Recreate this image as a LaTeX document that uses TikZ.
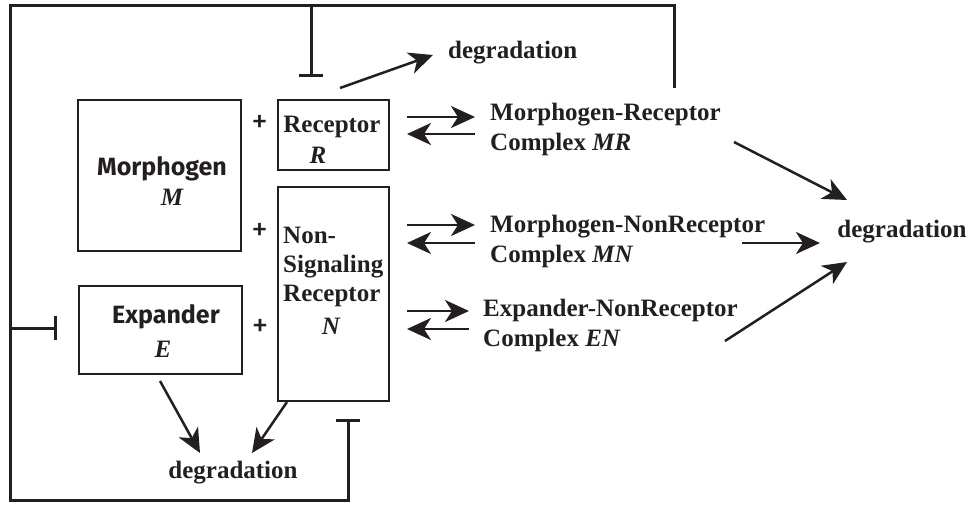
\documentclass[tikz,border=0pt]{standalone}
\usepackage{fontspec}
\setmainfont{Liberation Serif}
\newfontfamily\sansb{Fira Sans}
\usetikzlibrary{arrows.meta}
\definecolor{ink}{HTML}{231F20}
\begin{document}
\begin{tikzpicture}[x=1pt,y=-1pt,
  box/.style={draw=ink,line width=2.2pt,inner sep=0pt},
  lbl/.style={font=\fontsize{25}{30}\selectfont\bfseries,text=ink,inner sep=0pt},
  slbl/.style={font=\sansb\fontsize{25}{30}\selectfont\bfseries,text=ink,inner sep=0pt},
  plus/.style={font=\sansb\fontsize{33}{33}\selectfont,text=ink,inner sep=0pt},
  var/.style={font=\fontsize{25}{30}\selectfont\bfseries\itshape,text=ink,inner sep=0pt},
  arr/.style={draw=ink,line width=2.5pt,-{Stealth[length=24pt,width=22pt,inset=7pt]}},
  inh/.style={draw=ink,line width=3pt,-{Bar[width=24pt,line width=3pt]}},
  fb/.style={draw=ink,line width=3pt}]
\useasboundingbox (0,0) rectangle (970,506);

% boxes
\node[box,minimum width=163pt,minimum height=151pt] (Mbox) at (159.5,175.5) {};
\node[box,minimum width=111pt,minimum height=70pt] (Rbox) at (333.5,135) {};
\node[box,minimum width=111pt,minimum height=214pt] (Nbox) at (333.5,294) {};
\node[box,minimum width=163pt,minimum height=88pt] (Ebox) at (160.5,330) {};

% box labels
\node[slbl,anchor=base] (Mname) at (162,175) {Morphogen};
\node[var,anchor=base] (Mvar) at (172,205) {M};
\node[slbl,anchor=base] (Ename) at (166,323) {Expander};
\node[var,anchor=base] (Evar) at (163,357) {E};
\node[lbl,anchor=base] (Rname) at (332,132) {Receptor};
\node[var,anchor=base] (Rvar) at (318,163) {R};
\node[lbl,anchor=base west] (N1) at (283,243) {Non-};
\node[lbl,anchor=base west] (N2) at (283,272) {Signaling};
\node[lbl,anchor=base west] (N3) at (283,301) {Receptor};
\node[var,anchor=base] (Nvar) at (331,334) {N};

% plus signs
\node[plus] (p1) at (259.5,124) {+};
\node[plus] (p2) at (259.5,232) {+};
\node[plus] (p3) at (260,328) {+};

% complexes
\node[lbl,anchor=base west] (MR1) at (490,120) {Morphogen-Receptor};
\node[lbl,anchor=base west] (MR2) at (490,150) {Complex \textit{MR}};
\node[lbl,anchor=base west] (MN1) at (490,232) {Morphogen-NonReceptor};
\node[lbl,anchor=base west] (MN2) at (490,262) {Complex \textit{MN}};
\node[lbl,anchor=base west] (EN1) at (483,316) {Expander-NonReceptor};
\node[lbl,anchor=base west] (EN2) at (483,346) {Complex \textit{EN}};

% degradation labels
\node[lbl,anchor=west] (degT) at (448,53) {degradation};
\node[lbl] (degR) at (902,232) {degradation};
\node[lbl] (degB) at (233,473) {degradation};

% reversible arrows
\coordinate (a1) at (407,117); \coordinate (b1) at (475,117);
\coordinate (a2) at (407,134); \coordinate (b2) at (475,134);
\draw[arr] (a1) -- (b1);
\draw[arr] (b2) -- (a2);
\coordinate (a3) at (407,225); \coordinate (b3) at (475,225);
\coordinate (a4) at (407,243); \coordinate (b4) at (475,243);
\draw[arr] (a3) -- (b3);
\draw[arr] (b4) -- (a4);
\coordinate (a5) at (407,311); \coordinate (b5) at (469,311);
\coordinate (a6) at (407,329); \coordinate (b6) at (469,329);
\draw[arr] (a5) -- (b5);
\draw[arr] (b6) -- (a6);

% degradation arrows
\coordinate (s1) at (734,142); \coordinate (t1) at (847,200);
\coordinate (s2) at (742,243); \coordinate (t2) at (820,243);
\coordinate (s3) at (725,341); \coordinate (t3) at (847,262);
\draw[arr] (s1) -- (t1);
\draw[arr] (s2) -- (t2);
\draw[arr] (s3) -- (t3);
\coordinate (s4) at (340,88); \coordinate (t4) at (433,55);
\draw[arr] (s4) -- (t4);
\coordinate (s5) at (160,381); \coordinate (t5) at (200,453);
\coordinate (s6) at (287,402); \coordinate (t6) at (252,453);
\draw[arr] (s5) -- (t5);
\draw[arr] (s6) -- (t6);

% feedback loop
\coordinate (f0) at (674,88);
\coordinate (f1) at (674,5);
\coordinate (f2) at (10,5);
\coordinate (f3) at (10,500);
\coordinate (f4) at (348,500);
\coordinate (f5) at (348,419);
\draw[fb,line join=miter] (f0) -- (f1) -- (f2) -- (f3) -- (f4) -- (f5);
\draw[inh] (f4) -- (f5);
\coordinate (g1) at (311,5); \coordinate (g2) at (311,77);
\draw[inh] (g1) -- (g2);
\coordinate (h1) at (10,328); \coordinate (h2) at (57,328);
\draw[inh] (h1) -- (h2);
\end{tikzpicture}
\end{document}
